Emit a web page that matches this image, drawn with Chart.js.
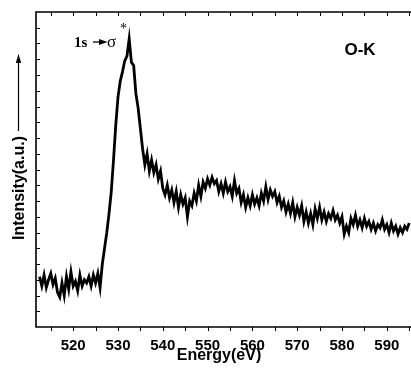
<!DOCTYPE html>
<html><head><meta charset="utf-8">
<script src="https://cdn.jsdelivr.net/npm/chart.js@4"></script>
<style>html,body{margin:0;padding:0;background:#fff}#c{display:block}</style>
</head><body>
<canvas id="c" width="411" height="368"></canvas>
<script>
const energies = [
512.5,513,513.5,514,514.5,515,515.5,516,516.5,517,
517.5,518,518.5,519,519.5,520,520.5,521,521.5,522,
522.5,523,523.5,524,524.5,525,525.5,526,526.5,527,
527.5,528,528.5,529,529.5,530,530.5,531,531.5,532,
532.5,533,533.5,534,534.5,535,535.5,536,536.5,537,
537.5,538,538.5,539,539.5,540,540.5,541,541.5,542,
542.5,543,543.5,544,544.5,545,545.5,546,546.5,547,
547.5,548,548.5,549,549.5,550,550.5,551,551.5,552,
552.5,553,553.5,554,554.5,555,555.5,556,556.5,557,
557.5,558,558.5,559,559.5,560,560.5,561,561.5,562,
562.5,563,563.5,564,564.5,565,565.5,566,566.5,567,
567.5,568,568.5,569,569.5,570,570.5,571,571.5,572,
572.5,573,573.5,574,574.5,575,575.5,576,576.5,577,
577.5,578,578.5,579,579.5,580,580.5,581,581.5,582,
582.5,583,583.5,584,584.5,585,585.5,586,586.5,587,
587.5,588,588.5,589,589.5,590,590.5,591,591.5,592,
592.5,593,593.5,594,594.5,595];
const intensity = [
3.2,2.6,3.3,2.5,3.0,3.4,2.7,3.1,2.2,1.9,
2.8,2.0,3.2,2.4,3.5,2.6,2.9,2.3,3.3,2.6,
3.0,2.8,3.2,2.6,3.3,2.8,3.4,2.5,4.0,5.0,
6.0,7.2,8.6,10.6,12.8,14.6,15.6,16.2,16.9,17.2,
18.3,16.8,16.6,14.8,13.9,12.6,11.3,10.3,11.0,9.9,
10.6,9.8,10.3,9.4,9.9,8.8,8.4,9.0,8.2,8.7,
7.9,8.6,7.6,8.4,7.8,8.2,7.0,8.0,7.7,8.5,
8.0,9.0,8.3,9.2,8.8,9.4,9.0,9.5,9.1,9.3,
8.6,9.1,8.5,9.2,8.6,8.9,8.3,9.3,8.5,8.8,
7.9,8.4,7.6,8.2,7.7,8.4,7.8,8.2,7.7,8.5,
8.0,8.9,8.1,8.7,8.3,8.6,7.9,8.3,7.6,8.0,
7.3,7.8,7.2,7.9,7.0,7.6,7.1,7.7,6.7,7.3,
6.6,7.2,6.5,7.5,6.9,7.6,6.8,7.3,6.7,7.2,
6.9,7.4,6.8,7.1,6.6,7.0,5.9,6.4,6.0,6.9,
6.5,7.1,6.4,6.8,6.3,6.9,6.4,6.7,6.2,6.6,
6.1,6.5,6.3,6.8,6.2,6.5,6.0,6.6,6.1,6.4,
5.9,6.3,6.0,6.4,6.2,6.6];
const xTickLabels = [520,530,540,550,560,570,580,590];
const xMinorTicks = [515,520,525,530,535,540,545,550,555,560,565,570,575,580,585,590,595];
const yTickValues = [1,2,3,4,5,6,7,8,9,10,11,12,13,14,15,16,17,18,19];

const frame = {
  id: 'frame',
  afterDraw(chart) {
    const {ctx, chartArea: a, scales: {x, y}} = chart;
    ctx.save();
    ctx.strokeStyle = '#000';
    ctx.lineWidth = 1.6;
    ctx.beginPath();
    ctx.moveTo(a.right + 2, a.top); ctx.lineTo(a.left, a.top);
    ctx.lineTo(a.left, a.bottom); ctx.lineTo(a.right + 2, a.bottom);
    ctx.stroke();
    ctx.lineWidth = 1;
    ctx.beginPath();
    xMinorTicks.forEach(v => {
      const px = Math.round(x.getPixelForValue(v)) + 0.5;
      ctx.moveTo(px, a.bottom); ctx.lineTo(px, a.bottom + 4);
      ctx.moveTo(px, a.top); ctx.lineTo(px, a.top + 4);
    });
    yTickValues.forEach(v => {
      const py = Math.round(y.getPixelForValue(v)) + 0.5;
      ctx.moveTo(a.left, py); ctx.lineTo(a.left + 4, py);
    });
    ctx.stroke();

    ctx.fillStyle = '#000';
    ctx.font = 'bold 16px "Liberation Sans", Arial, sans-serif';
    ctx.textAlign = 'center'; ctx.textBaseline = 'alphabetic';
    ctx.fillText('Energy(eV)', 219, 360);
    ctx.save();
    ctx.translate(23.5, 188);
    ctx.rotate(-Math.PI / 2);
    ctx.fillText('Intensity(a.u.)', 0, 0);
    ctx.restore();
    ctx.lineWidth = 1.2;
    ctx.beginPath(); ctx.moveTo(18.5, 131); ctx.lineTo(18.5, 62); ctx.stroke();
    ctx.beginPath(); ctx.moveTo(18.5, 54); ctx.lineTo(15.8, 63); ctx.lineTo(21.2, 63); ctx.closePath(); ctx.fill();
    ctx.font = 'bold 17px "Liberation Sans", Arial, sans-serif';
    ctx.textAlign = 'center';
    ctx.fillText('O-K', 360, 55);
    ctx.font = 'bold 15px "Liberation Serif", serif';
    ctx.textAlign = 'left';
    ctx.fillText('1s', 74, 46.5);
    ctx.lineWidth = 1.3;
    ctx.beginPath(); ctx.moveTo(93, 42); ctx.lineTo(101, 42); ctx.stroke();
    ctx.beginPath(); ctx.moveTo(107.5, 42); ctx.lineTo(99, 39); ctx.lineTo(99, 45); ctx.closePath(); ctx.fill();
    ctx.font = '17px "Liberation Serif", serif';
    ctx.fillText('σ', 107, 46.5);
    ctx.font = '14px "Liberation Serif", serif';
    ctx.fillText('*', 120, 33);
    ctx.restore();
  }
};

new Chart(document.getElementById('c'), {
  type: 'line',
  data: {
    datasets: [{
      data: energies.map((e, i) => ({x: e, y: intensity[i]})),
      borderColor: '#000',
      borderWidth: 2.8,
      pointRadius: 0,
      tension: 0,
      fill: false
    }]
  },
  options: {
    responsive: false,
    animation: false,
    events: [],
    layout: {padding: {top: 12, left: 0, right: 0, bottom: 0}},
    plugins: {legend: {display: false}, tooltip: {enabled: false}},
    scales: {
      x: {
        type: 'linear',
        min: 511.7, max: 595.4,
        afterBuildTicks: s => { s.ticks = xTickLabels.map(v => ({value: v})); },
        afterFit: s => { s.height = 41; },
        grid: {display: false},
        border: {display: false},
        ticks: {
          color: '#000', padding: 2, maxRotation: 0, autoSkip: false,
          font: {family: '"Liberation Sans", Arial, sans-serif', size: 15, weight: 'bold'}
        }
      },
      y: {
        type: 'linear',
        min: 0, max: 20,
        afterFit: s => { s.width = 36; },
        grid: {display: false},
        border: {display: false},
        ticks: {display: false}
      }
    }
  },
  plugins: [frame]
});
</script>
</body></html>
